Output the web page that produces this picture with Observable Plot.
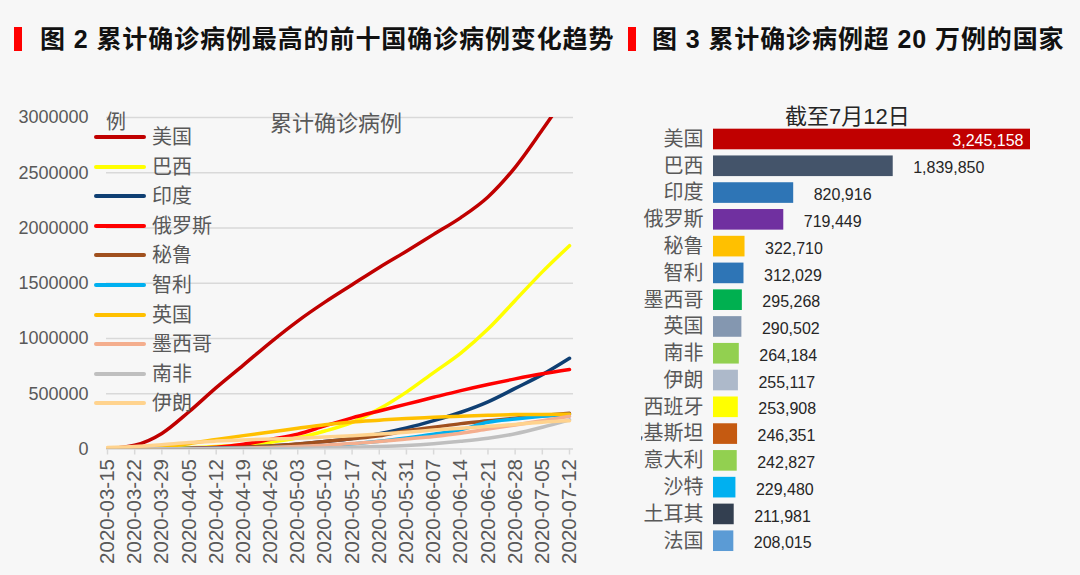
<!DOCTYPE html>
<html>
<head>
<meta charset="utf-8">
<script src="https://cdn.jsdelivr.net/npm/d3@7"></script>
<script src="https://cdn.jsdelivr.net/npm/@observablehq/plot@0.6"></script>
<style>
html, body { margin: 0; padding: 0; background: #f7f7f7; }
#root { position: relative; width: 1080px; height: 575px; overflow: hidden; background: #f7f7f7;
  font-family: "Liberation Sans", "Noto Sans CJK SC", sans-serif; }
.redmark { position: absolute; top: 27px; width: 8px; height: 24px; background: #ff0000; }
.ttl { position: absolute; top: 23px; font-weight: bold; font-size: 25px; letter-spacing: 0.9px; color: #111;
  line-height: 32px; white-space: nowrap; }
#lineWrap { position: absolute; left: 0; top: 100px; width: 600px; height: 475px; }
#barWrap { position: absolute; left: 641px; top: 100px; width: 439px; height: 475px; overflow: hidden; }
.subttl { position: absolute; white-space: nowrap; line-height: 1; }
#legend { position: absolute; left: 94px; top: 122px; }
.lg { position: absolute; left: 0; height: 30px; white-space: nowrap; }
.lg .sw { position: absolute; left: 0; top: 13px; width: 52px; height: 4px; border-radius: 2px; }
.lg .tx { position: absolute; left: 58px; top: 3px; font-size: 20px; line-height: 24px; color: #595959; }
</style>
</head>
<body>
<div id="root">
  <div class="redmark" style="left:14px"></div>
  <div class="ttl" style="left:40px">图 2 累计确诊病例最高的前十国确诊病例变化趋势</div>
  <div class="redmark" style="left:628px"></div>
  <div class="ttl" style="left:652px">图 3 累计确诊病例超 20 万例的国家</div>
  <div id="lineWrap"></div>
  <div id="barWrap"></div>
  <div class="subttl" style="left:270px;top:113px;font-size:22px;color:#595959">累计确诊病例</div>
  <div class="subttl" style="left:106px;top:112px;font-size:20px;color:#595959">例</div>
  <div id="legend"></div>
  <div class="subttl" style="left:785px;top:106px;font-size:22px;color:#262626">截至7月12日</div>
</div>
<script>
// ---------- Line chart data (weekly, cumulative confirmed cases) ----------
const dates = ["2020-03-15","2020-03-22","2020-03-29","2020-04-05","2020-04-12","2020-04-19","2020-04-26",
  "2020-05-03","2020-05-10","2020-05-17","2020-05-24","2020-05-31","2020-06-07","2020-06-14",
  "2020-06-21","2020-06-28","2020-07-05","2020-07-12"];
const lineCountries = ["美国","巴西","印度","俄罗斯","秘鲁","智利","英国","墨西哥","南非","伊朗"];
const usCases      = [3499,33272,140886,337072,555313,759086,965785,1158040,1329260,1486757,1643246,1790172,1942363,2094058,2280969,2549069,2888635,3245158];
const brazilCases  = [200,1546,4256,11130,22169,38654,61888,101147,162699,241080,363211,514849,691758,867624,1085038,1344143,1603055,1839850];
const indiaCases   = [110,396,1024,3588,9152,17265,26917,42533,67161,95698,138536,190535,256611,332424,426910,548318,673165,820916];
const russiaCases  = [63,367,1534,5389,15770,42853,87147,134687,209688,281752,344481,405843,467673,528267,583879,634437,680283,719449];
const peruCases    = [71,363,852,2281,7519,15628,27517,45928,67307,92273,119959,164476,196515,229736,254936,279419,302718,322710];
const chileCases   = [75,632,1909,4471,7213,10088,13331,19663,28866,46059,69102,99688,134150,174293,242355,271982,295532,312029];
const ukCases      = [1391,5683,19780,48440,85206,121172,154037,187842,220449,244995,260916,275797,286294,296857,305289,311151,313000,315000];
const mexicoCases  = [41,251,848,2143,4661,8261,14677,23471,35022,49219,68620,90664,113619,142690,180545,216852,256848,295268];
const saCases      = [51,274,1280,1655,2173,3158,4546,6783,10015,15515,22583,32683,48285,70038,97302,138134,196750,264184];
const iranCases    = [13938,21638,38309,58226,71686,82211,90481,97424,107603,120198,135701,151466,171789,187427,204952,222669,243051,255117];
const lineSeries = [usCases,brazilCases,indiaCases,russiaCases,peruCases,chileCases,ukCases,mexicoCases,saCases,iranCases];
const yTicks = [0,500000,1000000,1500000,2000000,2500000,3000000];

// ---------- Bar chart data ----------
const barCountries = ["美国","巴西","印度","俄罗斯","秘鲁","智利","墨西哥","英国","南非","伊朗","西班牙","巴基斯坦","意大利","沙特","土耳其","法国"];
const barValues = [3245158,1839850,820916,719449,322710,312029,295268,290502,264184,255117,253908,246351,242827,229480,211981,208015];

// ---------- Styles (colour ranges) ----------
const lineColors = ["#c00000","#ffff00","#0f3f73","#ff0000","#a0501e","#00b0f0","#ffc000","#f4ae8e","#bfbfbf","#ffd38e"];
const barColors = ["#c00000","#44546a","#2e75b6","#7030a0","#ffc000","#2e75b6","#00b050","#8497b0","#92d050","#adb9ca","#ffff00","#c55a11","#92d050","#00b0f0","#333f50","#5b9bd5"];

const fontFamily = '"Liberation Sans", "Noto Sans CJK SC", sans-serif';

// Build tables
const lineData = [];
lineCountries.forEach((c, i) => lineSeries[i].forEach((v, j) =>
  lineData.push({country: c, date: new Date(dates[j]), value: v})));
const tickDates = dates.map(d => new Date(d));

const lineChart = Plot.plot({
  width: 600, height: 475,
  marginLeft: 106, marginRight: 27, marginTop: 17, marginBottom: 126.5,
  insetLeft: 1, insetRight: 4,
  style: {background: "transparent", fontFamily, overflow: "visible"},
  x: {type: "utc", domain: [tickDates[0], tickDates[tickDates.length - 1]]},
  y: {domain: [0, 3000000]},
  color: {domain: lineCountries, range: lineColors},
  marks: [
    Plot.gridY(yTicks, {stroke: "#d9d9d9", strokeOpacity: 1, strokeWidth: 1.5}),
    Plot.axisY(yTicks, {tickSize: 0, tickPadding: 18, fontSize: 18, fill: "#595959",
      tickFormat: d3.format("d"), label: null}),
    Plot.axisX(tickDates, {tickRotate: -90, tickSize: 6, tickPadding: 4, fontSize: 20.5,
      stroke: "#d9d9d9", strokeWidth: 1.5, strokeOpacity: 1, fill: "#595959",
      tickFormat: d3.utcFormat("%Y-%m-%d"), label: null}),
    Plot.lineY(lineData, {x: "date", y: "value", z: "country", stroke: "country",
      strokeWidth: 3.5, curve: "monotone-x", clip: true})
  ]
});
document.getElementById("lineWrap").appendChild(lineChart);

// Legend
const legend = document.getElementById("legend");
lineCountries.forEach((c, i) => {
  const row = document.createElement("div");
  row.className = "lg";
  row.style.top = (i * 29.6) + "px";
  row.innerHTML = `<div class="sw" style="background:${lineColors[i]}"></div><div class="tx">${c}</div>`;
  legend.appendChild(row);
});

// Bar chart
const barData = barCountries.map((c, i) => ({country: c, value: barValues[i]}));
const maxVal = d3.max(barValues);
const fmt = d3.format(",");
const barChart = Plot.plot({
  width: 439, height: 475,
  marginLeft: 72, marginRight: 50, marginTop: 25.6, marginBottom: 20.9,
  style: {background: "transparent", fontFamily},
  x: {domain: [0, maxVal], axis: null},
  y: {domain: barCountries, paddingInner: 0.23, paddingOuter: 0.115, round: false, axis: null},
  color: {domain: barCountries, range: barColors},
  marks: [
    Plot.barX(barData, {x: "value", y: "country", fill: "country"}),
    Plot.axisY({tickSize: 0, tickPadding: 10, fontSize: 20, fill: "#595959", label: null}),
    Plot.text(barData.filter(d => d.value !== maxVal), {x: "value", y: "country",
      text: d => fmt(d.value), textAnchor: "start", dx: 20, dy: 2, fontSize: 16, fill: "#262626"}),
    Plot.text(barData.filter(d => d.value === maxVal), {x: "value", y: "country",
      text: d => fmt(d.value), textAnchor: "end", dx: -7, dy: 1, fontSize: 16, fill: "#ffffff"})
  ]
});
document.getElementById("barWrap").appendChild(barChart);
</script>
</body>
</html>
